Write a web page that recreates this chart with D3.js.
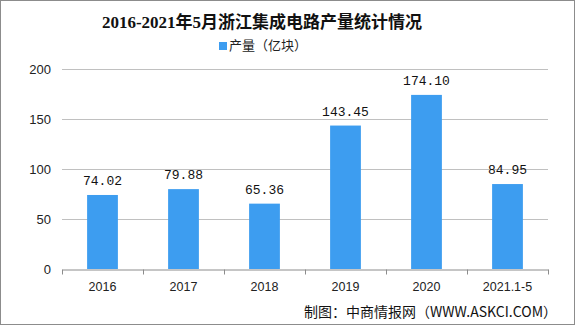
<!DOCTYPE html>
<html>
<head>
<meta charset="utf-8">
<script src="https://cdn.jsdelivr.net/npm/d3@7/dist/d3.min.js"></script>
<style>
  html, body { margin: 0; padding: 0; background: #fff; }
  svg { display: block; }
</style>
</head>
<body>
<svg id="chart" width="575" height="326"></svg>
<script>
// Zhejiang integrated circuit output, 100 million units
const categories = ["2016", "2017", "2018", "2019", "2020", "2021.1-5"];
const output = [74.02, 79.88, 65.36, 143.45, 174.10, 84.95];
const yTicks = [0, 50, 100, 150, 200];

const W = 575, H = 326;
const margin = { left: 62, right: 27, top: 69, bottom: 57 };

const svg = d3.select("#chart");

// outer frame
svg.append("rect")
  .attr("x", 0.5).attr("y", 0.5)
  .attr("width", W - 1).attr("height", H - 2)
  .attr("fill", "#fff").attr("stroke", "#8c8c8c");

const x = d3.scaleBand()
  .domain(categories)
  .range([margin.left, W - margin.right])
  .padding(0);

const y = d3.scaleLinear()
  .domain([0, 200])
  .range([H - margin.bottom, margin.top]);

// horizontal grid lines
svg.append("g")
  .selectAll("line")
  .data(yTicks.filter(d => d > 0))
  .join("line")
  .attr("x1", margin.left).attr("x2", W - margin.right)
  .attr("y1", d => Math.round(y(d)) + 0.5)
  .attr("y2", d => Math.round(y(d)) + 0.5)
  .attr("stroke", "#c0c0c0");

// y axis labels
const yAxis = d3.axisLeft(y).tickValues(yTicks).tickSize(0).tickPadding(11);
const gy = svg.append("g")
  .attr("transform", `translate(${margin.left},0)`)
  .call(yAxis);
gy.select(".domain").remove();
gy.selectAll("text")
  .attr("font-family", "'Liberation Sans', Arial, sans-serif")
  .attr("font-size", 13)
  .attr("fill", "#222");

// bars
const barW = x.bandwidth() * 0.38;
svg.append("g")
  .selectAll("rect")
  .data(output)
  .join("rect")
  .attr("x", (d, i) => x(categories[i]) + (x.bandwidth() - barW) / 2)
  .attr("y", d => y(d))
  .attr("width", barW)
  .attr("height", d => y(0) - y(d))
  .attr("fill", "#3d9df0");

// value labels
svg.append("g")
  .selectAll("text")
  .data(output)
  .join("text")
  .attr("x", (d, i) => x(categories[i]) + x.bandwidth() / 2)
  .attr("y", d => y(d) - 10)
  .attr("text-anchor", "middle")
  .attr("font-family", "'Liberation Mono', 'DejaVu Sans Mono', monospace")
  .attr("font-size", 13)
  .attr("fill", "#111")
  .text(d => d.toFixed(2));

// x axis
const xAxis = d3.axisBottom(x).tickSize(0).tickPadding(13);
const gx = svg.append("g")
  .attr("transform", `translate(0,${Math.round(y(0)) + 0.5})`)
  .call(xAxis);
gx.select(".domain").attr("stroke", "#8c8c8c");
gx.selectAll("text")
  .attr("font-family", "'Liberation Sans', Arial, sans-serif")
  .attr("font-size", 12.5)
  .attr("fill", "#222");
// category boundary ticks
gx.append("g")
  .selectAll("line")
  .data(d3.range(categories.length + 1))
  .join("line")
  .attr("x1", i => Math.round(margin.left + i * x.step()) + 0.5)
  .attr("x2", i => Math.round(margin.left + i * x.step()) + 0.5)
  .attr("y1", 0).attr("y2", 5)
  .attr("stroke", "#8c8c8c");

// title
svg.append("text")
  .attr("x", 262).attr("y", 28)
  .attr("text-anchor", "middle")
  .attr("font-family", "'Liberation Serif', 'Noto Sans CJK SC', serif")
  .attr("font-weight", "bold")
  .attr("font-size", 17)
  .attr("fill", "#111")
  .text("2016-2021年5月浙江集成电路产量统计情况");

// legend
svg.append("rect")
  .attr("x", 219).attr("y", 42)
  .attr("width", 8).attr("height", 8)
  .attr("fill", "#3d9df0");
svg.append("text")
  .attr("x", 229).attr("y", 50)
  .attr("font-family", "'Noto Sans CJK SC', sans-serif")
  .attr("font-size", 13)
  .attr("fill", "#222")
  .text("产量（亿块）");

// source note
svg.append("text")
  .attr("x", 557).attr("y", 317)
  .attr("text-anchor", "end")
  .attr("font-family", "'Noto Sans CJK SC', sans-serif")
  .attr("font-size", 14)
  .attr("fill", "#111")
  .text("制图：中商情报网（WWW.ASKCI.COM）");
</script>
</body>
</html>
